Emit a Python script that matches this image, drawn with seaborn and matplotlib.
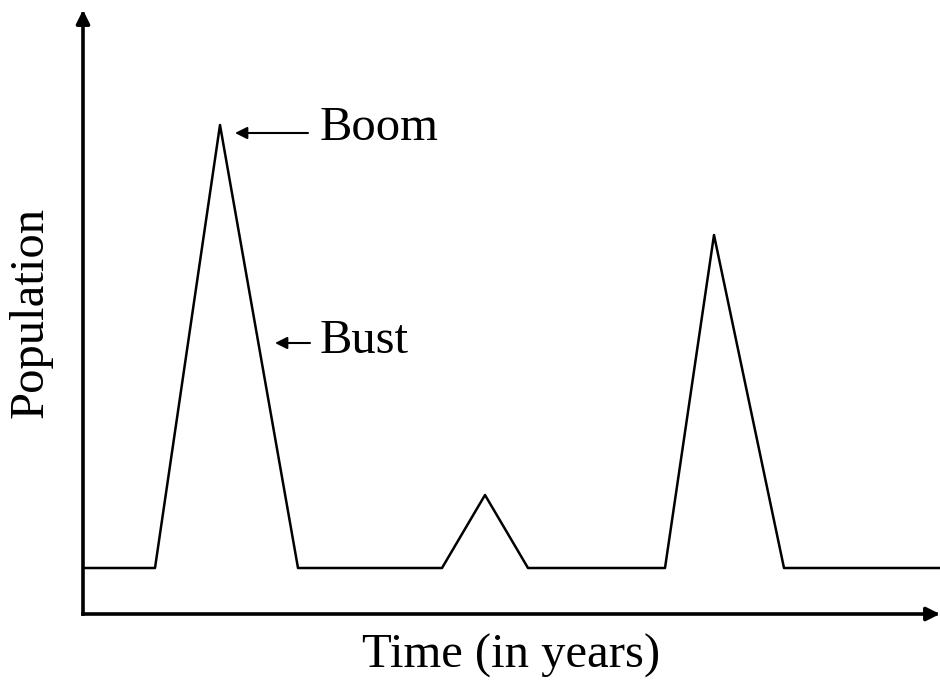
import matplotlib
matplotlib.use('Agg')
import matplotlib.pyplot as plt
import seaborn as sns
import pandas as pd

# Breakpoints of the boom/bust curve (time, population)
time = [0, 72, 137, 215, 359, 402, 445, 582, 631, 701, 857]
population = [46, 46, 489, 46, 46, 119, 46, 46, 379, 46, 46]

df = pd.DataFrame({'Time': time, 'Population': population})

sns.set_style('white')
plt.rcParams['font.family'] = ['Liberation Serif', 'DejaVu Serif']
plt.rcParams['text.color'] = 'black'
plt.rcParams['axes.labelcolor'] = 'black'

fig = plt.figure(figsize=(9.4, 6.86), dpi=100)
ax = fig.add_axes([83 / 940, 72 / 686, 857 / 940, 604 / 686])

sns.lineplot(data=df, x='Time', y='Population', color='black', linewidth=1.8, ax=ax)
ax.set_xlim(0, 857)
ax.set_ylim(0, 604)
ax.set_xticks([])
ax.set_yticks([])
for s in ax.spines.values():
    s.set_visible(False)

# axis lines with arrow heads
axis_arrow = dict(arrowstyle='-|>', color='black', lw=2.6, mutation_scale=20,
                  shrinkA=0, shrinkB=0, capstyle='projecting')
ax.annotate('', xy=(0, 1.0), xytext=(0, 0), xycoords='axes fraction', arrowprops=axis_arrow)
ax.annotate('', xy=(1.0, 0), xytext=(0, 0), xycoords='axes fraction', arrowprops=axis_arrow)

ax.set_xlabel('Time (in years)', fontsize=35, labelpad=14)
ax.set_ylabel('Population', fontsize=35, labelpad=22)

# pointer arrows and labels
ptr = dict(arrowstyle='-|>', color='black', lw=1.5, mutation_scale=18,
           shrinkA=0, shrinkB=0)
ax.annotate('', xy=(152, 481), xytext=(225, 481), arrowprops=ptr)
ax.annotate('', xy=(192, 271), xytext=(227, 271), arrowprops=ptr)
ax.text(237, 474, 'Boom', fontsize=35, va='baseline')
ax.text(237, 261, 'Bust', fontsize=35, va='baseline')

plt.savefig('out.png', dpi=100)
